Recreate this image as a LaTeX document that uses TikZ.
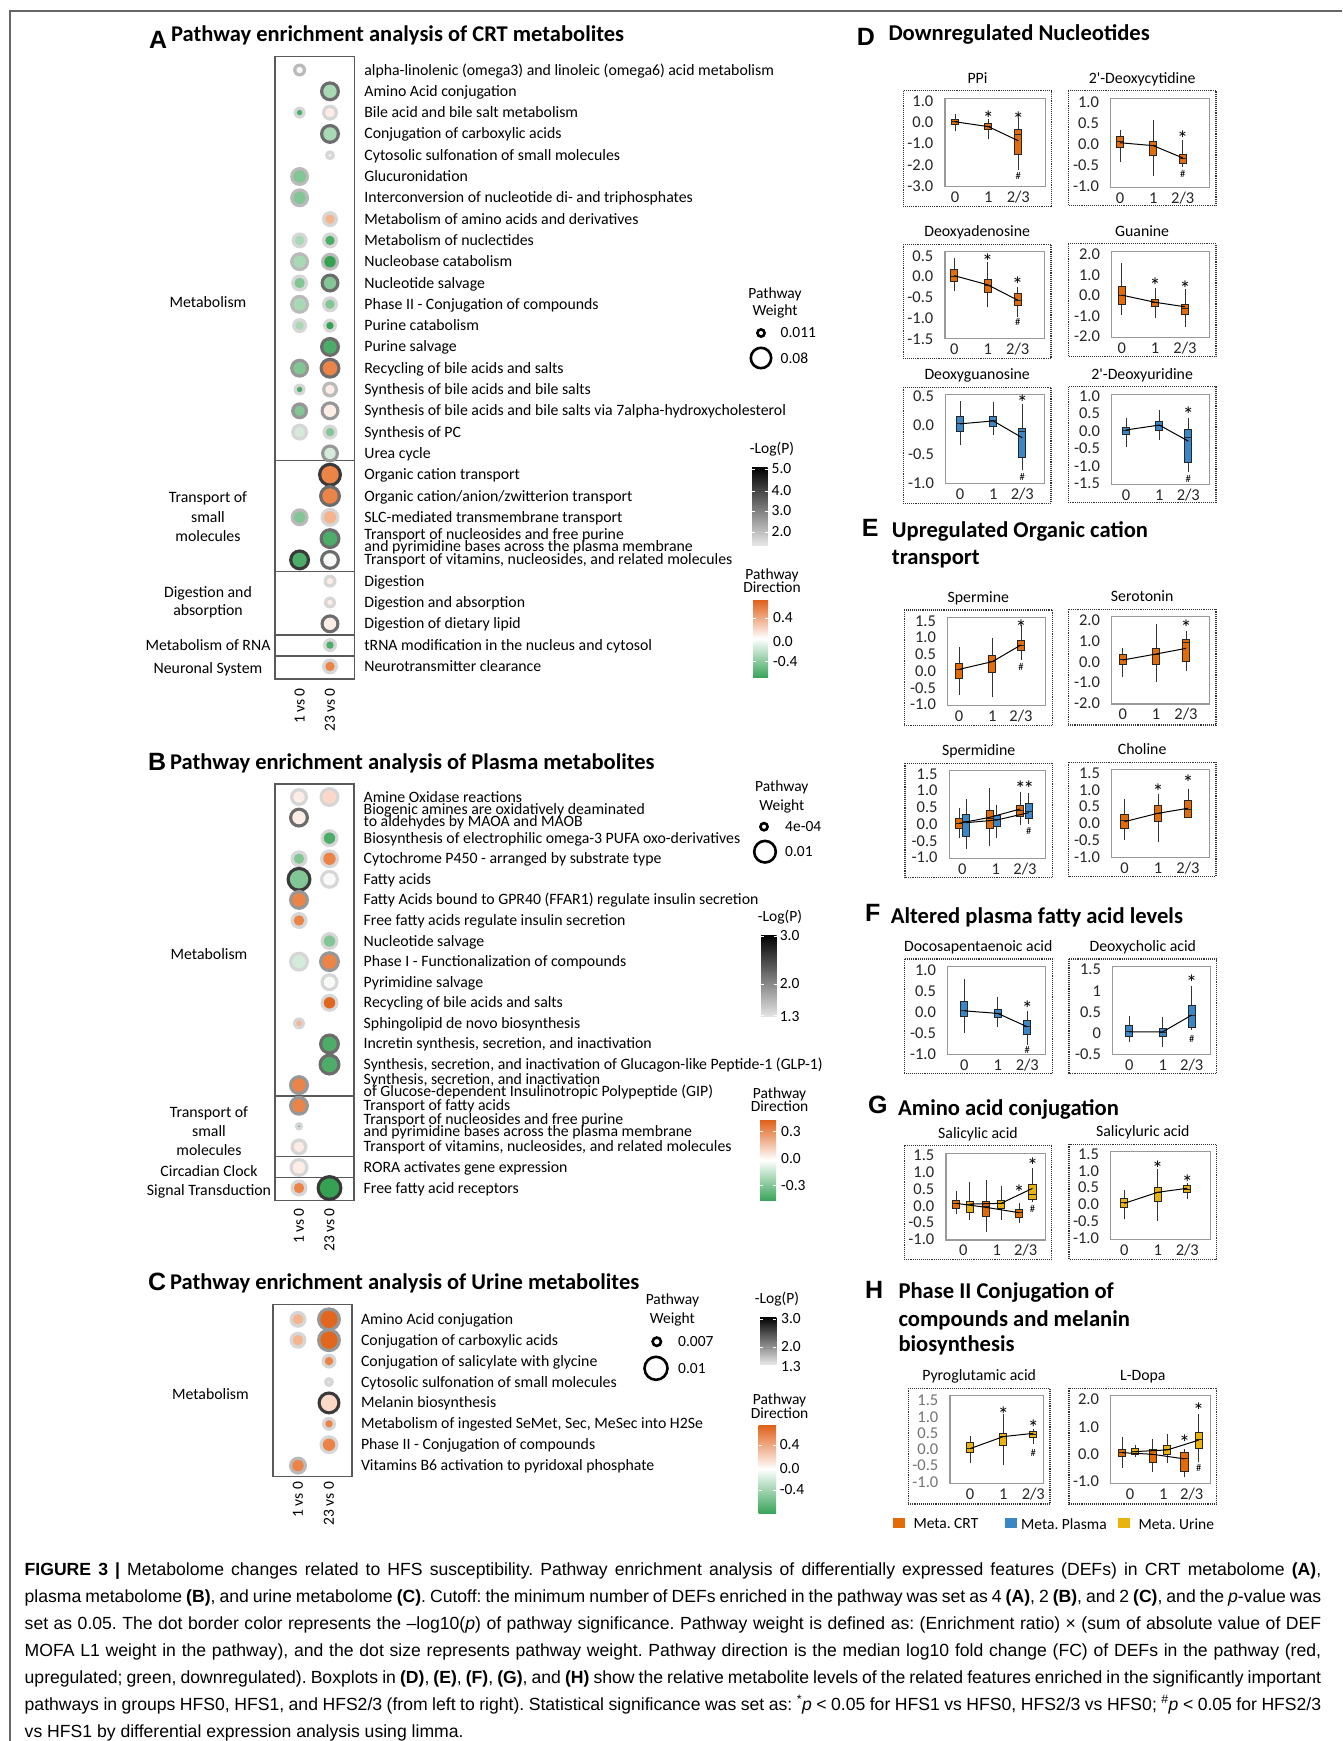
\documentclass[tikz,border=0pt]{standalone}
\usepackage{fontspec}
\setmainfont{Carlito}
\newfontfamily\arial{Liberation Sans}
\definecolor{crt}{HTML}{E26B0A}
\definecolor{pla}{HTML}{3A86C6}
\definecolor{uri}{HTML}{EAB20C}
\definecolor{dO}{HTML}{E2671E}
\definecolor{mO}{HTML}{EC8447}
\definecolor{lO}{HTML}{F6B48E}
\definecolor{pO}{HTML}{FBD9C6}
\definecolor{vP}{HTML}{FDEDE4}
\definecolor{wW}{HTML}{F8FAF8}
\definecolor{vG}{HTML}{D3EBD8}
\definecolor{lG}{HTML}{A9D9B4}
\definecolor{mG}{HTML}{82C695}
\definecolor{gG}{HTML}{4CAD68}
\definecolor{dG}{HTML}{35A152}
\definecolor{r1}{HTML}{D6D6D6}
\definecolor{r2}{HTML}{BABABA}
\definecolor{r3}{HTML}{979797}
\definecolor{r4}{HTML}{6C6C6C}
\definecolor{r5}{HTML}{3A3A3A}
\definecolor{dirO}{HTML}{E0601A}
\definecolor{dirG}{HTML}{3AA55B}
\newcounter{nd}
\newcommand\Tx[3][]{\stepcounter{nd}\node[#1] (t\arabic{nd}) at (#2) {#3};}
\newcommand\DT[5]{\fill[#5] (#1,{\qryo+\qrdy*#2}) circle[radius=#3pt];
  \fill[#4] (#1,{\qryo+\qrdy*#2}) circle[radius={#3pt-3.3pt}];}
\newcommand\RL[2]{\Tx[rowl]{\qrx,{\qryo+\qrdy*#1+5}}{#2}}
\newcommand\PF[7]{%
  \draw[obox] (#2,#3) rectangle (#4,#5);
  \draw[ibox] (#6,{#3+7.5}) rectangle ({#4-6.5},#7);
  \Tx[ptt]{{(#2+#4)/2},{#3-7.4}}{#1}
  \def\qtx{#6-11.5}%
  \Tx[tick]{\qga,{#7+10.5}}{0}\Tx[tick]{\qgb,{#7+10.5}}{1}\Tx[tick]{\qgc,{#7+10.5}}{2/3}}
\newcommand\YT[2]{\Tx[tick,anchor=east]{{\qtx},{\qyz-\qkk*(#1)}}{#2}}
\newcommand\BX[7]{%
  \draw[wsk] (#1,{\qyz-\qkk*(#2)}) -- (#1,{\qyz-\qkk*(#6)});
  \filldraw[fill=#7,bxs] ({#1-3.6},{\qyz-\qkk*(#3)}) rectangle ({#1+3.6},{\qyz-\qkk*(#5)});
  \draw[bxs] ({#1-3.6},{\qyz-\qkk*(#4)}) -- ({#1+3.6},{\qyz-\qkk*(#4)});}
\newcommand\ML[6]{\draw[mln] (#1,{\qyz-\qkk*(#2)}) -- (#3,{\qyz-\qkk*(#4)}) -- (#5,{\qyz-\qkk*(#6)});}
\newcommand\ST[2]{\Tx[star]{#1,{\qyz-\qkk*(#2)}}{*}}
\newcommand\HS[2]{\Tx[hsh]{#1,{\qyz-\qkk*(#2)}}{\#}}
\newcommand\CL[2]{\Tx[capl]{24.5,{1575+27*#1}}{\makebox[1296.5pt][s]{#2}}}
\begin{document}
\frenchspacing
\begin{tikzpicture}[x=1pt,y=-1pt,
 rowl/.style={anchor=base west,inner sep=0pt,font=\fontsize{15.8}{17}\selectfont},
 grpl/.style={anchor=base,inner sep=0pt,font=\fontsize{15.8}{17}\selectfont},
 legl/.style={anchor=west,inner sep=0pt,font=\fontsize{15.5}{17}\selectfont},
 legt/.style={anchor=base,inner sep=0pt,font=\fontsize{15.5}{17}\selectfont},
 coll/.style={rotate=90,anchor=east,inner sep=0pt,font=\fontsize{15.5}{17}\selectfont},
 ptitle/.style={anchor=base west,inner sep=0pt,font=\bfseries\fontsize{22.5}{25}\selectfont},
 rtitle/.style={anchor=base west,inner sep=0pt,font=\bfseries\fontsize{22.6}{25}\selectfont},
 letter/.style={anchor=base west,inner sep=0pt,font=\arial\bfseries\fontsize{25}{25}\selectfont},
 dbox/.style={draw=black!65,line width=1.3pt},
 obox/.style={densely dotted,line width=1.1pt,black!80},
 ibox/.style={line width=1.2pt,black!40},
 wsk/.style={line width=0.9pt,black!80},
 bxs/.style={line width=0.9pt,draw=black!85},
 mln/.style={line width=1pt,black},
 ptt/.style={anchor=base,inner sep=0pt,font=\fontsize{15.8}{17}\selectfont},
 tick/.style={inner sep=0pt,font=\fontsize{16.5}{18}\selectfont,text=black!85},
 star/.style={inner sep=0pt,yshift=-4.6pt,font=\fontsize{22}{22}\selectfont},
 hsh/.style={inner sep=0pt,font=\fontsize{10.5}{10.5}\selectfont},
 wring/.style={line width=2.6pt,black},
 capl/.style={anchor=base west,inner sep=0pt,font=\arial\fontsize{17.6}{20}\selectfont}]
\useasboundingbox (0,0) rectangle (1342,1741);
\fill[white] (0,0) rectangle (1342,1741);
\draw[black!60,line width=1.2pt] (10,1741) -- (10,11) -- (1342,11);

% ================= Panel A =================
\Tx[letter]{149,48}{A}
\Tx[ptitle]{171,41.7}{Pathway enrichment analysis of CRT metabolites}
\draw[dbox] (275,56.7) rectangle (354.6,679);
\draw[dbox] (275,460.7) -- (354.6,460.7) (275,571.7) -- (354.6,571.7)
  (275,635) -- (354.6,635) (275,656) -- (354.6,656);
\def\qryo{70}\def\qrdy{21.3}\def\qrx{364.2}
\def\colA{299.6}\def\colB{330}
\DT{\colA}{0}{6.5}{wW}{r2}
\DT{\colB}{1}{10}{lG}{r4}
\DT{\colA}{2}{6}{gG}{r1}\DT{\colB}{2}{8}{vP}{r1}
\DT{\colB}{3}{10}{lG}{r4}
\DT{\colB}{4}{5}{vP}{r1}
\DT{\colA}{5}{9.5}{mG}{r2}
\DT{\colA}{6}{9.5}{mG}{r2}
\DT{\colB}{7}{8}{lO}{r1}
\DT{\colA}{8}{8}{lG}{r1}\DT{\colB}{8}{8}{gG}{r1}
\DT{\colA}{9}{9.5}{lG}{r2}\DT{\colB}{9}{9}{dG}{r2}
\DT{\colA}{10}{8.5}{mG}{r1}\DT{\colB}{10}{9.5}{mG}{r4}
\DT{\colA}{11}{9.5}{lG}{r2}\DT{\colB}{11}{8}{mG}{r1}
\DT{\colA}{12}{7.5}{lG}{r1}\DT{\colB}{12}{7}{dG}{r1}
\DT{\colB}{13}{10}{gG}{r4}
\DT{\colA}{14}{9.5}{mG}{r3}\DT{\colB}{14}{10.5}{mO}{r4}
\DT{\colA}{15}{6}{gG}{r1}\DT{\colB}{15}{8}{vP}{r2}
\DT{\colA}{16}{8.5}{mG}{r3}\DT{\colB}{16}{9.5}{vP}{r3}
\DT{\colA}{17}{8.5}{vG}{r1}\DT{\colB}{17}{7.5}{mG}{r1}
\DT{\colB}{18}{9}{vG}{r3}
\DT{\colB}{19}{12}{mO}{r5}
\DT{\colB}{20}{11}{mO}{r4}
\DT{\colA}{21}{9}{mG}{r2}\DT{\colB}{21}{9.5}{lO}{r1}
\DT{\colB}{22}{10.5}{gG}{r4}
\DT{\colA}{23}{10.5}{gG}{r5}\DT{\colB}{23}{10}{wW}{r4}
\DT{\colB}{24}{6.5}{vP}{r1}
\DT{\colB}{25}{6}{vP}{r1}
\DT{\colB}{26}{9.5}{vP}{r4}
\DT{\colB}{27}{7}{gG}{r1}
\DT{\colB}{28}{8}{mO}{r1}
\RL{0}{alpha-linolenic (omega3) and linoleic (omega6) acid metabolism}
\RL{1}{Amino Acid conjugation}
\RL{2}{Bile acid and bile salt metabolism}
\RL{3}{Conjugation of carboxylic acids}
\RL{4}{Cytosolic sulfonation of small molecules}
\RL{5}{Glucuronidation}
\RL{6}{Interconversion of nucleotide di- and triphosphates}
\RL{7}{Metabolism of amino acids and derivatives}
\RL{8}{Metabolism of nuclectides}
\RL{9}{Nucleobase catabolism}
\RL{10}{Nucleotide salvage}
\RL{11}{Phase II - Conjugation of compounds}
\RL{12}{Purine catabolism}
\RL{13}{Purine salvage}
\RL{14}{Recycling of bile acids and salts}
\RL{15}{Synthesis of bile acids and bile salts}
\RL{16}{Synthesis of bile acids and bile salts via 7alpha-hydroxycholesterol}
\RL{17}{Synthesis of PC}
\RL{18}{Urea cycle}
\RL{19}{Organic cation transport}
\RL{20}{Organic cation/anion/zwitterion transport}
\RL{21}{SLC-mediated transmembrane transport}
\Tx[rowl]{\qrx,539.5}{Transport of nucleosides and free purine}
\Tx[rowl]{\qrx,551}{and pyrimidine bases across the plasma membrane}
\RL{23}{Transport of vitamins, nucleosides, and related molecules}
\RL{24}{Digestion}
\RL{25}{Digestion and absorption}
\RL{26}{Digestion of dietary lipid}
\RL{27}{tRNA modification in the nucleus and cytosol}
\RL{28}{Neurotransmitter clearance}
\Tx[grpl]{208,307}{Metabolism}
\Tx[grpl]{208,502.7}{Transport of}
\Tx[grpl]{208,522}{small}
\Tx[grpl]{208,541}{molecules}
\Tx[grpl]{208,597}{Digestion and}
\Tx[grpl]{208,615.7}{absorption}
\Tx[grpl]{208,650.7}{Metabolism of RNA}
\Tx[grpl]{208,673}{Neuronal System}
\Tx[coll]{\colA,688}{1 vs 0}
\Tx[coll]{\colB,688}{23 vs 0}
% legends A
\Tx[legt]{775,298}{Pathway}
\Tx[legt]{775,315.7}{Weight}
\draw[wring] (761,333) circle[radius=3.6pt];
\draw[wring] (761,358) circle[radius=10.2pt];
\Tx[legl]{780.5,333}{0.011}
\Tx[legl]{780.5,358}{0.08}
\Tx[legt]{772,453}{-Log(P)}
\shade[top color=black,bottom color=black!10] (752,467) rectangle (767.5,545);
\foreach \yy in {469,491,511,532}{\draw[white,line width=0.8pt] (752,\yy) -- (755,\yy) (764.5,\yy) -- (767.5,\yy);}
\Tx[legl]{771.5,469}{5.0}\Tx[legl]{771.5,491}{4.0}\Tx[legl]{771.5,511}{3.0}\Tx[legl]{771.5,532}{2.0}
\Tx[legt]{772,579}{Pathway}
\Tx[legt]{772,592.7}{Direction}
\shade[top color=dirO,bottom color=dirG,middle color=white] (753,600) rectangle (768,677);
\foreach \yy in {618,641.7,661.7}{\draw[white,line width=0.8pt] (753,\yy) -- (756,\yy) (765,\yy) -- (768,\yy);}
\Tx[legl]{773,618}{0.4}\Tx[legl]{773,641.7}{0.0}\Tx[legl]{773,661.7}{-0.4}

% ================= Panel B =================
\Tx[letter]{148,770}{B}
\Tx[ptitle]{170,769.3}{Pathway enrichment analysis of Plasma metabolites}
\draw[dbox] (275,784) rectangle (354,1200.7);
\draw[dbox] (275,1096) -- (354,1096) (275,1156.7) -- (354,1156.7) (275,1177.7) -- (354,1177.7);
\def\qryo{797}\def\qrdy{20.58}\def\qrx{363.5}
\def\colA{299}\def\colB{329.5}
\DT{\colA}{0}{9}{vP}{r1}\DT{\colB}{0}{10}{pO}{r1}
\DT{\colA}{1}{10}{vP}{r4}
\DT{\colB}{2}{9}{gG}{r1}
\DT{\colA}{3}{8.5}{mG}{r1}\DT{\colB}{3}{9.5}{mO}{r1}
\DT{\colA}{4}{12.5}{mG}{r5}\DT{\colB}{4}{9.5}{wW}{r1}
\DT{\colA}{5}{10}{mO}{r3}
\DT{\colA}{6}{8.5}{mO}{r1}
\DT{\colB}{7}{9}{mG}{r1}
\DT{\colA}{8}{10}{vG}{r1}\DT{\colB}{8}{10.5}{mO}{r3}
\DT{\colB}{9}{9}{wW}{r1}
\DT{\colB}{10}{9}{dO}{r1}
\DT{\colA}{11}{6}{lO}{r1}
\DT{\colB}{12}{10.5}{gG}{r4}
\DT{\colB}{13}{11}{gG}{r4}
\DT{\colA}{14}{10}{mO}{r3}
\DT{\colA}{15}{10}{mO}{r3}
\DT{\colA}{16}{4.2}{gG}{r1}
\DT{\colA}{17}{8.5}{vP}{r1}
\DT{\colA}{18}{9.5}{vP}{r1}
\DT{\colA}{19}{8.5}{mO}{r1}\DT{\colB}{19}{13}{dG}{r5}
\RL{0}{Amine Oxidase reactions}
\Tx[rowl]{\qrx,814.5}{Biogenic amines are oxidatively deaminated}
\Tx[rowl]{\qrx,826}{to aldehydes by MAOA and MAOB}
\RL{2}{Biosynthesis of electrophilic omega-3 PUFA oxo-derivatives}
\RL{3}{Cytochrome P450 - arranged by substrate type}
\RL{4}{Fatty acids}
\RL{5}{Fatty Acids bound to GPR40 (FFAR1) regulate insulin secretion}
\RL{6}{Free fatty acids regulate insulin secretion}
\RL{7}{Nucleotide salvage}
\RL{8}{Phase I - Functionalization of compounds}
\RL{9}{Pyrimidine salvage}
\RL{10}{Recycling of bile acids and salts}
\RL{11}{Sphingolipid de novo biosynthesis}
\RL{12}{Incretin synthesis, secretion, and inactivation}
\RL{13}{Synthesis, secretion, and inactivation of Glucagon-like Peptide-1 (GLP-1)}
\Tx[rowl]{\qrx,1084.5}{Synthesis, secretion, and inactivation}
\Tx[rowl]{\qrx,1096}{of Glucose-dependent Insulinotropic Polypeptide (GIP)}
\RL{15}{Transport of fatty acids}
\Tx[rowl]{\qrx,1124.5}{Transport of nucleosides and free purine}
\Tx[rowl]{\qrx,1136}{and pyrimidine bases across the plasma membrane}
\RL{17}{Transport of vitamins, nucleosides, and related molecules}
\RL{18}{RORA activates gene expression}
\RL{19}{Free fatty acid receptors}
\Tx[grpl]{209,959}{Metabolism}
\Tx[grpl]{209,1117.7}{Transport of}
\Tx[grpl]{209,1136.7}{small}
\Tx[grpl]{209,1155.7}{molecules}
\Tx[grpl]{209,1176}{Circadian Clock}
\Tx[grpl]{209,1195.7}{Signal Transduction}
\Tx[coll]{\colA,1208}{1 vs 0}
\Tx[coll]{\colB,1208}{23 vs 0}
\Tx[legt]{781.8,791.7}{Pathway}
\Tx[legt]{781.8,810}{Weight}
\draw[wring] (764,826.7) circle[radius=3.6pt];
\draw[wring] (765,851.7) circle[radius=10.8pt];
\Tx[legl]{785,826.7}{4e-04}
\Tx[legl]{785,851.7}{0.01}
\Tx[legt]{780,921.7}{-Log(P)}
\shade[top color=black,bottom color=black!10] (761,935) rectangle (776.5,1016.7);
\foreach \yy in {936,984,1015}{\draw[white,line width=0.8pt] (761,\yy) -- (764,\yy) (773.5,\yy) -- (776.5,\yy);}
\Tx[legl]{779.6,936}{3.0}\Tx[legl]{779.6,984}{2.0}\Tx[legl]{779.6,1017}{1.3}
\Tx[legt]{779.6,1098}{Pathway}
\Tx[legt]{779.6,1111.7}{Direction}
\shade[top color=dirO,bottom color=dirG,middle color=white] (760,1120) rectangle (776,1200);
\foreach \yy in {1131.7,1158.3,1185.7}{\draw[white,line width=0.8pt] (760,\yy) -- (763,\yy) (773,\yy) -- (776,\yy);}
\Tx[legl]{781,1131.7}{0.3}\Tx[legl]{781,1158.3}{0.0}\Tx[legl]{781,1185.7}{-0.3}

% ================= Panel C =================
\Tx[letter]{148,1290}{C}
\Tx[ptitle]{170,1289.3}{Pathway enrichment analysis of Urine metabolites}
\draw[dbox] (273,1304.3) rectangle (352,1476.7);
\def\qryo{1319.3}\def\qrdy{20.9}\def\qrx{360.8}
\def\colA{298}\def\colB{329}
\DT{\colA}{0}{8.5}{lO}{r1}\DT{\colB}{0}{12}{dO}{r3}
\DT{\colA}{1}{8.5}{lO}{r1}\DT{\colB}{1}{12}{dO}{r3}
\DT{\colB}{2}{7.5}{mO}{r1}
\DT{\colB}{3}{5}{vG}{r1}
\DT{\colB}{4}{11.5}{pO}{r5}
\DT{\colB}{5}{7}{mO}{r1}
\DT{\colB}{6}{9.5}{mO}{r1}
\DT{\colA}{7}{9}{mO}{r2}
\RL{0}{Amino Acid conjugation}
\RL{1}{Conjugation of carboxylic acids}
\RL{2}{Conjugation of salicylate with glycine}
\RL{3}{Cytosolic sulfonation of small molecules}
\RL{4}{Melanin biosynthesis}
\RL{5}{Metabolism of ingested SeMet, Sec, MeSec into H2Se}
\RL{6}{Phase II - Conjugation of compounds}
\RL{7}{Vitamins B6 activation to pyridoxal phosphate}
\Tx[grpl]{210.4,1399.3}{Metabolism}
\Tx[coll]{\colA,1481.7}{1 vs 0}
\Tx[coll]{\colB,1481.7}{23 vs 0}
\Tx[legt]{672.4,1304.3}{Pathway}
\Tx[legt]{672.4,1323.3}{Weight}
\draw[wring] (656.8,1341.7) circle[radius=4.2pt];
\draw[wring] (656,1368.3) circle[radius=11.5pt];
\Tx[legl]{678,1341.7}{0.007}
\Tx[legl]{678,1368.3}{0.01}
\Tx[legt]{777,1303.3}{-Log(P)}
\shade[top color=black,bottom color=black!10] (760,1317) rectangle (776.4,1364);
\foreach \yy in {1319,1347}{\draw[white,line width=0.8pt] (760,\yy) -- (763,\yy) (773.4,\yy) -- (776.4,\yy);}
\Tx[legl]{781,1319}{3.0}\Tx[legl]{781,1347}{2.0}\Tx[legl]{781,1367}{1.3}
\Tx[legt]{779.6,1404.3}{Pathway}
\Tx[legt]{779.6,1418.3}{Direction}
\shade[top color=dirO,bottom color=dirG,middle color=white] (758.6,1425) rectangle (776,1513);
\foreach \yy in {1445,1468.3,1490}{\draw[white,line width=0.8pt] (758.6,\yy) -- (761.6,\yy) (773,\yy) -- (776,\yy);}
\Tx[legl]{779.6,1445}{0.4}\Tx[legl]{779.6,1468.3}{0.0}\Tx[legl]{779.6,1490}{-0.4}

% ================= Panel D =================
\Tx[letter]{856.7,45}{D}
\Tx[rtitle]{888.3,40.8}{Downregulated Nucleotides}
% PPi
\def\qyz{122.6}\def\qkk{21.1}\def\qga{955}\def\qgb{988.3}\def\qgc{1018.3}
\PF{PPi}{903.3}{90.7}{1051.7}{206.7}{945}{186.7}
\YT{1}{1.0}\YT{0}{0.0}\YT{-1}{-1.0}\YT{-2}{-2.0}\YT{-3}{-3.0}
\BX{\qga}{-0.4}{-0.1}{0.05}{0.15}{0.42}{crt}
\BX{\qgb}{-0.8}{-0.32}{-0.2}{-0.03}{0.17}{crt}
\BX{\qgc}{-2.25}{-1.53}{-0.54}{-0.32}{0.2}{crt}
\ML{\qga}{0.04}{\qgb}{-0.19}{\qgc}{-0.86}
\ST{\qgb}{0.42}\ST{\qgc}{0.35}\HS{\qgc}{-2.55}
% 2'-Deoxycytidine
\def\qyz{144.4}\def\qkk{42.2}\def\qga{1120}\def\qgb{1153.3}\def\qgc{1182.7}
\PF{2\textquotesingle-Deoxycytidine}{1068.3}{90.7}{1216}{205.7}{1110.7}{187.3}
\YT{1}{1.0}\YT{0.5}{0.5}\YT{0}{0.0}\YT{-0.5}{-0.5}\YT{-1}{-1.0}
\BX{\qga}{-0.41}{-0.08}{0.06}{0.18}{0.34}{crt}
\BX{\qgb}{-0.76}{-0.25}{-0.03}{0.08}{0.58}{crt}
\BX{\qgc}{-0.53}{-0.45}{-0.33}{-0.23}{0.1}{crt}
\ML{\qga}{0.04}{\qgb}{-0.03}{\qgc}{-0.32}
\ST{\qgc}{0.25}\HS{\qgc}{-0.71}
% Deoxyadenosine
\def\qyz{276.5}\def\qkk{41.5}\def\qga{954.3}\def\qgb{987.7}\def\qgc{1017.7}
\PF{Deoxyadenosine}{903.3}{244.3}{1051}{358.3}{945}{338.3}
\YT{0.5}{0.5}\YT{0}{0.0}\YT{-0.5}{-0.5}\YT{-1}{-1.0}\YT{-1.5}{-1.5}
\BX{\qga}{-0.35}{-0.13}{0}{0.16}{0.45}{crt}
\BX{\qgb}{-0.73}{-0.38}{-0.22}{-0.07}{0.36}{crt}
\BX{\qgc}{-0.97}{-0.7}{-0.57}{-0.42}{-0.25}{crt}
\ML{\qga}{0.02}{\qgb}{-0.2}{\qgc}{-0.57}
\ST{\qgb}{0.47}\ST{\qgc}{-0.08}\HS{\qgc}{-1.09}
% Guanine
\def\qyz{295.5}\def\qkk{20.5}\def\qga{1121.7}\def\qgb{1155}\def\qgc{1185}
\PF{Guanine}{1068.3}{243.7}{1216}{356.7}{1111.7}{337.3}
\YT{2}{2.0}\YT{1}{1.0}\YT{0}{0.0}\YT{-1}{-1.0}\YT{-2}{-2.0}
\BX{\qga}{-0.95}{-0.43}{0.02}{0.43}{1.57}{crt}
\BX{\qgb}{-1.1}{-0.51}{-0.33}{-0.17}{0.38}{crt}
\BX{\qgc}{-1.55}{-0.9}{-0.62}{-0.43}{0.32}{crt}
\ML{\qga}{0.02}{\qgb}{-0.33}{\qgc}{-0.55}
\ST{\qgb}{0.7}\ST{\qgc}{0.58}
% Deoxyguanosine
\def\qyz{425}\def\qkk{58.2}\def\qga{960}\def\qgb{993.3}\def\qgc{1022.3}
\PF{Deoxyguanosine}{903.3}{387.3}{1051}{503.3}{945.7}{483.3}
\YT{0.5}{0.5}\YT{0}{0.0}\YT{-0.5}{-0.5}\YT{-1}{-1.0}
\BX{\qga}{-0.34}{-0.11}{0.03}{0.15}{0.41}{pla}
\BX{\qgb}{-0.18}{-0.02}{0.07}{0.14}{0.39}{pla}
\BX{\qgc}{-0.77}{-0.56}{-0.11}{-0.06}{0.36}{pla}
\ML{\qga}{0.02}{\qgb}{0.07}{\qgc}{-0.22}
\ST{\qgc}{0.46}\HS{\qgc}{-0.89}
% 2'-Deoxyuridine
\def\qyz{431}\def\qkk{34.9}\def\qga{1126}\def\qgb{1159.3}\def\qgc{1188.3}
\PF{2\textquotesingle-Deoxyuridine}{1068.3}{386.7}{1216}{502.3}{1111.7}{484.3}
\YT{1}{1.0}\YT{0.5}{0.5}\YT{0}{0.0}\YT{-0.5}{-0.5}\YT{-1}{-1.0}\YT{-1.5}{-1.5}
\BX{\qga}{-0.45}{-0.11}{0.03}{0.11}{0.36}{pla}
\BX{\qgb}{-0.26}{0.03}{0.15}{0.27}{0.6}{pla}
\BX{\qgc}{-1.18}{-0.9}{-0.19}{0.05}{0.36}{pla}
\ML{\qga}{0.03}{\qgb}{0.17}{\qgc}{-0.29}
\ST{\qgc}{0.59}\HS{\qgc}{-1.38}

% ================= Panel E =================
\Tx[letter]{861.7,536.7}{E}
\Tx[rtitle]{891.7,537.7}{Upregulated Organic cation}
\Tx[rtitle]{891.7,564}{transport}
% Spermine
\def\qyz{671}\def\qkk{33.4}\def\qga{959}\def\qgb{992.3}\def\qgc{1021}
\PF{Spermine}{904.3}{610}{1052.3}{725.7}{947.7}{705.7}
\YT{1.5}{1.5}\YT{1}{1.0}\YT{0.5}{0.5}\YT{0}{0.0}\YT{-0.5}{-0.5}\YT{-1}{-1.0}
\BX{\qga}{-0.72}{-0.22}{0.05}{0.23}{0.73}{crt}
\BX{\qgb}{-0.79}{-0.05}{0.28}{0.48}{1.0}{crt}
\BX{\qgc}{0.33}{0.61}{0.78}{0.91}{1.38}{crt}
\ML{\qga}{0.05}{\qgb}{0.28}{\qgc}{0.78}
\ST{\qgc}{1.43}\HS{\qgc}{0.13}
% Serotonin
\def\qyz{661.7}\def\qkk{20.8}\def\qga{1122.7}\def\qgb{1156}\def\qgc{1186}
\PF{Serotonin}{1068.3}{609.3}{1216}{725}{1111.7}{704}
\YT{2}{2.0}\YT{1}{1.0}\YT{0}{0.0}\YT{-1}{-1.0}\YT{-2}{-2.0}
\BX{\qga}{-0.75}{-0.11}{0.13}{0.36}{0.64}{crt}
\BX{\qgb}{-0.99}{-0.13}{0.37}{0.64}{1.81}{crt}
\BX{\qgc}{-0.43}{0.03}{0.93}{1.08}{1.49}{crt}
\ML{\qga}{0.08}{\qgb}{0.37}{\qgc}{0.64}
\ST{\qgc}{1.87}
% Spermidine
\def\qyz{824}\def\qkk{33.4}\def\qga{962.3}\def\qgb{995.7}\def\qgc{1025}
\PF{Spermidine}{905}{763.3}{1052.3}{877.7}{949.3}{858.3}
\YT{1.5}{1.5}\YT{1}{1.0}\YT{0.5}{0.5}\YT{0}{0.0}\YT{-0.5}{-0.5}\YT{-1}{-1.0}
\BX{959}{-0.43}{-0.13}{0.02}{0.17}{0.47}{crt}
\BX{966.3}{-0.76}{-0.36}{0.07}{0.3}{0.74}{pla}
\BX{989.7}{-0.65}{-0.13}{0.17}{0.42}{1.09}{crt}
\BX{996.7}{-0.41}{-0.08}{0.14}{0.27}{0.57}{pla}
\BX{1020.3}{-0.03}{0.22}{0.42}{0.57}{0.97}{crt}
\BX{1028.8}{0}{0.17}{0.37}{0.62}{0.92}{pla}
\ML{959}{0.02}{989.7}{0.2}{1020.3}{0.45}
\ML{966.3}{0.04}{996.7}{0.12}{1028.8}{0.34}
\ST{1020.3}{1.2}\ST{1028.8}{1.2}\HS{1028.8}{-0.2}
% Choline
\def\qyz{823.3}\def\qkk{33.4}\def\qga{1124.5}\def\qgb{1158}\def\qgc{1188}
\PF{Choline}{1068.3}{762.3}{1216}{876.7}{1111.7}{857.3}
\YT{1.5}{1.5}\YT{1}{1.0}\YT{0.5}{0.5}\YT{0}{0.0}\YT{-0.5}{-0.5}\YT{-1}{-1.0}
\BX{\qga}{-0.5}{-0.15}{0.08}{0.28}{0.72}{crt}
\BX{\qgb}{-0.57}{0.05}{0.3}{0.53}{0.88}{crt}
\BX{\qgc}{0.18}{0.18}{0.43}{0.67}{1.02}{crt}
\ML{\qga}{0.05}{\qgb}{0.3}{\qgc}{0.45}
\ST{\qgb}{1.08}\ST{\qgc}{1.35}

% ================= Panel F =================
\Tx[letter]{865,921.7}{F}
\Tx[rtitle]{890.7,923.3}{Altered plasma fatty acid levels}
% Docosapentaenoic acid
\def\qyz{1011.7}\def\qkk{42}\def\qga{964.3}\def\qgb{997.7}\def\qgc{1027.3}
\PF{Docosapentaenoic acid}{904.3}{959}{1052.3}{1073.3}{947.7}{1054.3}
\YT{1}{1.0}\YT{0.5}{0.5}\YT{0}{0.0}\YT{-0.5}{-0.5}\YT{-1}{-1.0}
\BX{\qga}{-0.5}{-0.12}{0.02}{0.24}{0.77}{pla}
\BX{\qgb}{-0.36}{-0.14}{-0.04}{0.06}{0.34}{pla}
\BX{\qgc}{-0.79}{-0.54}{-0.36}{-0.21}{0.02}{pla}
\ML{\qga}{0.02}{\qgb}{-0.04}{\qgc}{-0.36}
\ST{\qgc}{0.18}\HS{\qgc}{-0.91}
% Deoxycholic acid
\def\qyz{1032.7}\def\qkk{42}\def\qga{1129.3}\def\qgb{1162.7}\def\qgc{1191.7}
\PF{Deoxycholic acid}{1069}{959}{1216.7}{1073.3}{1112.7}{1054.3}
\YT{1.5}{1.5}\YT{1}{1}\YT{0.5}{0.5}\YT{0}{0}\YT{-0.5}{-0.5}
\BX{\qga}{-0.21}{-0.1}{0.02}{0.18}{0.4}{pla}
\BX{\qgb}{-0.33}{-0.1}{0.01}{0.1}{0.37}{pla}
\BX{\qgc}{0.06}{0.13}{0.4}{0.64}{1.11}{pla}
\ML{\qga}{0.02}{\qgb}{0.02}{\qgc}{0.42}
\ST{\qgc}{1.31}\HS{\qgc}{-0.16}

% ================= Panel G =================
\Tx[letter]{868,1113}{G}
\Tx[rtitle]{898,1115}{Amino acid conjugation}
% Salicylic acid
\def\qyz{1205.7}\def\qkk{33.4}\def\qga{963.3}\def\qgb{996.7}\def\qgc{1025.7}
\PF{Salicylic acid}{904.3}{1145.7}{1051.7}{1259.3}{946}{1240}
\YT{1.5}{1.5}\YT{1}{1.0}\YT{0.5}{0.5}\YT{0}{0.0}\YT{-0.5}{-0.5}\YT{-1}{-1.0}
\BX{956.3}{-0.25}{-0.08}{0.07}{0.17}{0.45}{crt}
\BX{969.7}{-0.42}{-0.21}{0.05}{0.12}{0.7}{uri}
\BX{986.3}{-0.78}{-0.31}{-0.01}{0.14}{0.78}{crt}
\BX{1001}{-0.43}{-0.08}{0.07}{0.17}{0.6}{uri}
\BX{1019.2}{-0.51}{-0.36}{-0.21}{-0.11}{0.07}{crt}
\BX{1032.5}{0.12}{0.19}{0.35}{0.65}{1.12}{uri}
\ML{956.3}{0.07}{986.3}{-0.05}{1019.2}{-0.21}
\ML{969.7}{0.05}{1001}{0.07}{1032.5}{0.52}
\ST{1019.2}{0.52}\ST{1032.5}{1.35}\HS{1032.5}{-0.11}
% Salicyluric acid
\def\qyz{1204.3}\def\qkk{33.4}\def\qga{1124.3}\def\qgb{1157.7}\def\qgc{1187.3}
\PF{Salicyluric acid}{1069}{1144.3}{1216.7}{1259.3}{1110.7}{1239.3}
\YT{1.5}{1.5}\YT{1}{1.0}\YT{0.5}{0.5}\YT{0}{0.0}\YT{-0.5}{-0.5}\YT{-1}{-1.0}
\BX{\qga}{-0.45}{-0.09}{0.06}{0.18}{0.43}{uri}
\BX{\qgb}{-0.49}{0.08}{0.36}{0.5}{1.05}{uri}
\BX{\qgc}{0.15}{0.35}{0.46}{0.56}{0.63}{uri}
\ML{\qga}{0.03}{\qgb}{0.36}{\qgc}{0.48}
\ST{\qgb}{1.21}\ST{\qgc}{0.78}

% ================= Panel H =================
\Tx[letter]{865,1298.3}{H}
\Tx[rtitle]{898.3,1298.3}{Phase II Conjugation of}
\Tx[rtitle]{898.3,1326}{compounds and melanin}
\Tx[rtitle]{898.3,1351.7}{biosynthesis}
% Pyroglutamic acid
\def\qyz{1449.3}\def\qkk{32.6}\def\qga{970}\def\qgb{1003.3}\def\qgc{1033.3}
\PF{Pyroglutamic acid}{908.3}{1388.3}{1050}{1504}{950}{1483.3}
\tikzset{tick/.append style={text=black!55}}
\YT{1.5}{1.5}\YT{1}{1.0}\YT{0.5}{0.5}\YT{0}{0.0}\YT{-0.5}{-0.5}\YT{-1}{-1.0}
\tikzset{tick/.append style={text=black!85}}
\BX{\qga}{-0.43}{-0.1}{0.04}{0.2}{0.42}{uri}
\BX{\qgb}{-0.49}{0.13}{0.39}{0.49}{1.07}{uri}
\BX{\qgc}{0.16}{0.37}{0.46}{0.54}{0.61}{uri}
\ML{\qga}{0.02}{\qgb}{0.39}{\qgc}{0.49}
\ST{\qgb}{1.2}\ST{\qgc}{0.8}\HS{\qgc}{-0.11}
% L-Dopa
\def\qyz{1454}\def\qkk{27.2}\def\qga{1130}\def\qgb{1163.3}\def\qgc{1191.7}
\PF{L-Dopa}{1069}{1388.3}{1216.7}{1504}{1110.7}{1483.3}
\YT{2}{2.0}\YT{1}{1.0}\YT{0}{0.0}\YT{-1}{-1.0}
\BX{1122}{-0.52}{-0.1}{0.05}{0.17}{0.64}{crt}
\BX{1135.3}{-0.1}{-0.01}{0.09}{0.21}{0.33}{uri}
\BX{1152.7}{-0.65}{-0.32}{-0.01}{0.15}{0.54}{crt}
\BX{1167.3}{-0.34}{0}{0.17}{0.33}{0.72}{uri}
\BX{1184.5}{-0.86}{-0.65}{-0.18}{0.06}{0.17}{crt}
\BX{1198.7}{-0.3}{0.21}{0.54}{0.79}{1.47}{uri}
\ML{1122}{0.05}{1152.7}{-0.01}{1184.5}{-0.18}
\ML{1135.3}{0.09}{1167.3}{0.15}{1198.7}{0.51}
\ST{1184.5}{0.6}\ST{1198.7}{1.76}\HS{1198.7}{-0.5}
% legend
\fill[crt] (893.3,1518.3) rectangle (905,1528.3);
\Tx[legl]{913.3,1524}{Meta. CRT}
\fill[pla] (1005,1518.3) rectangle (1016.7,1528.3);
\Tx[legl]{1021,1524}{Meta. Plasma}
\fill[uri] (1118.3,1518.3) rectangle (1130,1528.3);
\Tx[legl]{1138.3,1524}{Meta. Urine}

% ================= Caption =================
\CL{0}{\textbf{FIGURE 3 |} Metabolome changes related to HFS susceptibility. Pathway enrichment analysis of differentially expressed features (DEFs) in CRT metabolome \textbf{(A)},}
\CL{1}{plasma metabolome \textbf{(B)}, and urine metabolome \textbf{(C)}. Cutoff: the minimum number of DEFs enriched in the pathway was set as 4 \textbf{(A)}, 2 \textbf{(B)}, and 2 \textbf{(C)}, and the \textit{p}-value was}
\CL{2}{set as 0.05. The dot border color represents the –log10(\textit{p}) of pathway significance. Pathway weight is defined as: (Enrichment ratio) × (sum of absolute value of DEF}
\CL{3}{MOFA L1 weight in the pathway), and the dot size represents pathway weight. Pathway direction is the median log10 fold change (FC) of DEFs in the pathway (red,}
\CL{4}{upregulated; green, downregulated). Boxplots in \textbf{(D)}, \textbf{(E)}, \textbf{(F)}, \textbf{(G)}, and \textbf{(H)} show the relative metabolite levels of the related features enriched in the significantly important}
\CL{5}{pathways in groups HFS0, HFS1, and HFS2/3 (from left to right). Statistical significance was set as: \textsuperscript{*}\textit{p} < 0.05 for HFS1 vs HFS0, HFS2/3 vs HFS0; \textsuperscript{\#}\textit{p} < 0.05 for HFS2/3}
\Tx[capl]{24.5,{1575+27*6}}{vs HFS1 by differential expression analysis using limma.}
\end{tikzpicture}
\end{document}
